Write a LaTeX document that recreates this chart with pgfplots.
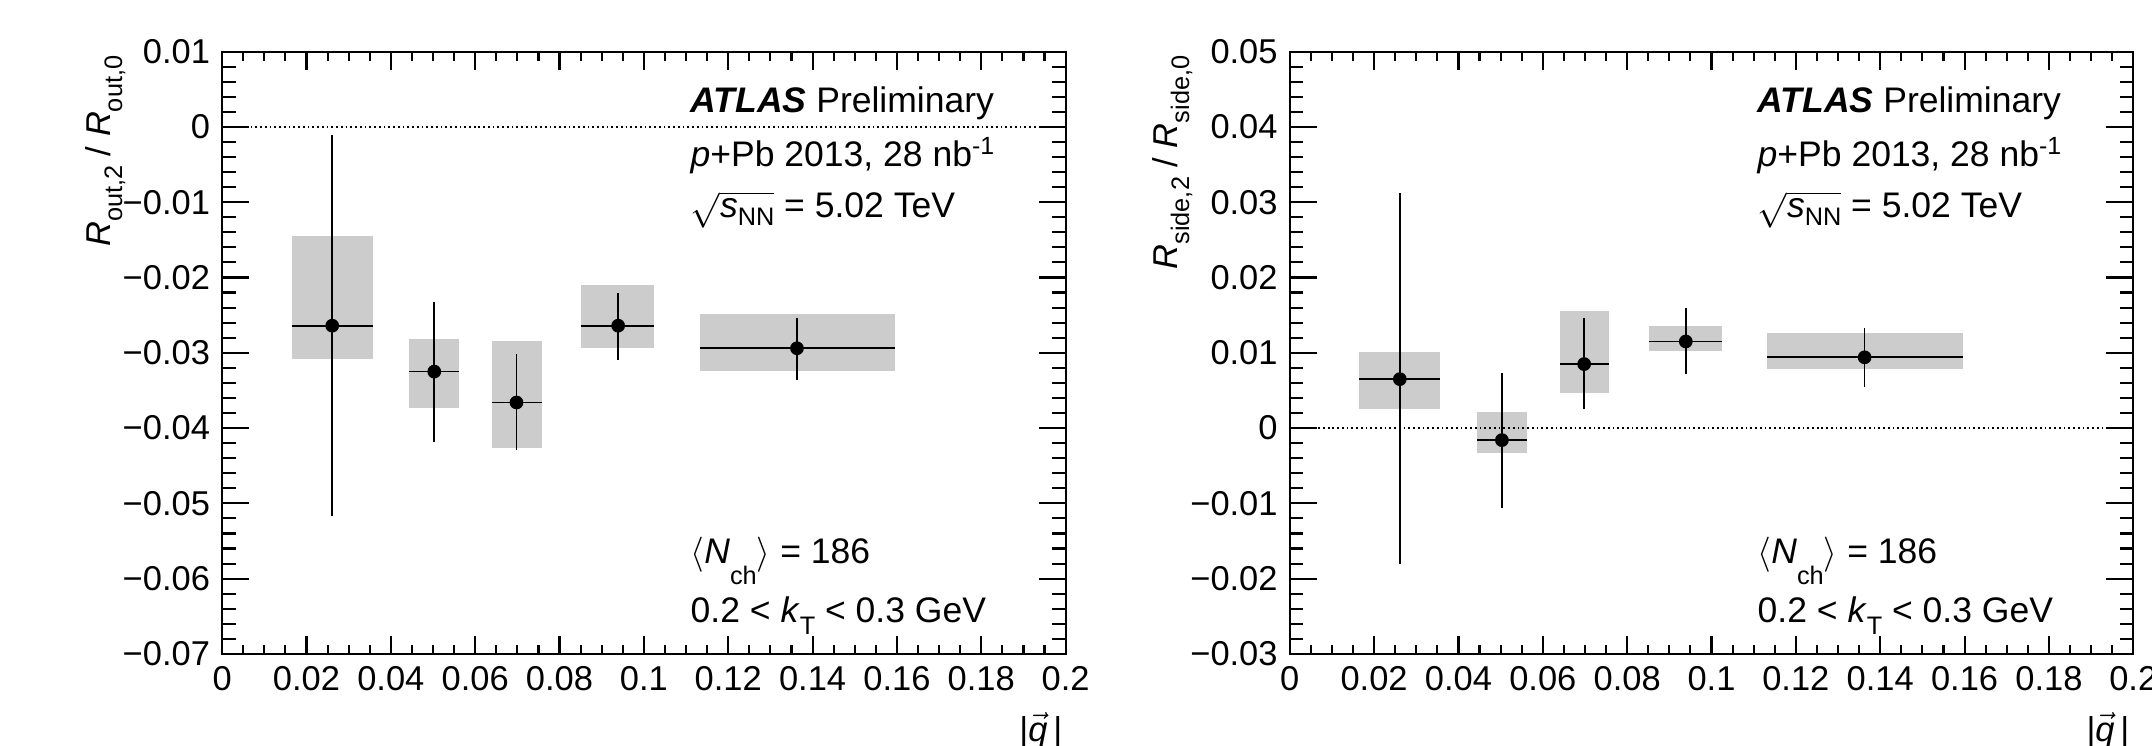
\documentclass[border=0pt]{standalone}
\usepackage{fontspec}
\setmainfont{Liberation Sans}
\usepackage{pgfplots}
\usepackage{pgfplotstable}
\pgfplotsset{compat=1.18}

% x, y, bin edges, stat. error ends
\pgfplotstableread{
x      y       xlo    xhi    shi     slo
0.0261 -0.0264 0.0165 0.0357 -0.0011 -0.0517
0.0503 -0.0325 0.0444 0.0562 -0.0233 -0.0418
0.0698 -0.0366 0.0641 0.0758 -0.0302 -0.0429
0.0939 -0.0264 0.0852 0.1025 -0.0220 -0.0309
0.1363 -0.0294 0.1132 0.1596 -0.0254 -0.0336
}\outdata

\pgfplotstableread{
x      y       xlo    xhi    shi     slo
0.0261  0.0065 0.0165 0.0357  0.0312 -0.0181
0.0503 -0.0016 0.0444 0.0562  0.0073 -0.0106
0.0698  0.0085 0.0641 0.0758  0.0146  0.0025
0.0939  0.0115 0.0852 0.1025  0.0159  0.0072
0.1363  0.0094 0.1132 0.1596  0.0133  0.0054
}\sidedata

\pgfplotsset{
  base/.style={scale only axis, width=8.43cm, height=6.02cm,
    xmin=0, xmax=0.2, anchor=south west, scaled ticks=false,
    tick align=inside, tick pos=both,
    axis line style={line width=0.6pt},
    every tick/.style={line width=0.6pt, black}},
  yframe/.style={base, xtick=\empty, minor y tick num=4,
    major tick length=0.27cm, minor tick length=0.135cm},
  xframe/.style={base, ytick=\empty,
    xtick={0,0.02,0.04,0.06,0.08,0.1,0.12,0.14,0.16,0.18,0.2},
    xticklabels={0,0.02,0.04,0.06,0.08,0.1,0.12,0.14,0.16,0.18,0.2},
    minor x tick num=3, major tick length=0.18cm, minor tick length=0.09cm},
  syst/.style={draw=none, fill=black!20, forget plot},
  zero/.style={black, line width=0.5pt, dash pattern=on 0.5pt off 0.85pt, forget plot},
  pts/.style={only marks, mark=*, mark size=1.75pt, black,
    error bars/.cd, x dir=both, x explicit, y dir=both, y explicit,
    error mark=none, error bar style={line width=0.5pt, black}},
}

\newcommand{\pts}[1]{\addplot[pts] table[x=x, y=y,
  x error minus expr=\thisrow{x}-\thisrow{xlo},
  x error plus expr=\thisrow{xhi}-\thisrow{x},
  y error plus expr=\thisrow{shi}-\thisrow{y},
  y error minus expr=\thisrow{y}-\thisrow{slo}] {#1};}
% ROOT-like subscripts: bigger and lower than \textsubscript
\newcommand{\sub}[2][0.35em]{\raisebox{-#1}{\fontsize{7.2}{8}\selectfont #2}}

\begin{document}
\fontsize{9.8}{11.8}\selectfont
\begin{tikzpicture}[x=0.01cm, y=0.01cm]
\path[use as bounding box] (0,0) rectangle (2152,745);

% ---- left: R_out
\begin{axis}[yframe, at={(2.22cm,0.91cm)}, ymin=-0.07, ymax=0.01,
  ytick={-0.07,-0.06,-0.05,-0.04,-0.03,-0.02,-0.01,0,0.01},
  yticklabels={−0.07,−0.06,−0.05,−0.04,−0.03,−0.02,−0.01,0,0.01}]
\addplot[syst] coordinates {(0.0165,-0.0145) (0.0357,-0.0145) (0.0357,-0.0308) (0.0165,-0.0308)};
\addplot[syst] coordinates {(0.0444,-0.0282) (0.0562,-0.0282) (0.0562,-0.0373) (0.0444,-0.0373)};
\addplot[syst] coordinates {(0.0641,-0.0284) (0.0758,-0.0284) (0.0758,-0.0426) (0.0641,-0.0426)};
\addplot[syst] coordinates {(0.0852,-0.0210) (0.1025,-0.0210) (0.1025,-0.0293) (0.0852,-0.0293)};
\addplot[syst] coordinates {(0.1132,-0.0249) (0.1596,-0.0249) (0.1596,-0.0324) (0.1132,-0.0324)};
\addplot[zero] coordinates {(0,0) (0.2,0)};
\pts{\outdata}
\end{axis}
\begin{axis}[xframe, at={(2.22cm,0.91cm)}, ymin=-0.07, ymax=0.01]
\end{axis}

% ---- right: R_side
\begin{axis}[yframe, at={(12.89cm,0.91cm)}, ymin=-0.03, ymax=0.05,
  ytick={-0.03,-0.02,-0.01,0,0.01,0.02,0.03,0.04,0.05},
  yticklabels={−0.03,−0.02,−0.01,0,0.01,0.02,0.03,0.04,0.05}]
\addplot[syst] coordinates {(0.0165,0.0101) (0.0357,0.0101) (0.0357,0.0025) (0.0165,0.0025)};
\addplot[syst] coordinates {(0.0444,0.0022) (0.0562,0.0022) (0.0562,-0.0033) (0.0444,-0.0033)};
\addplot[syst] coordinates {(0.0641,0.0156) (0.0758,0.0156) (0.0758,0.0046) (0.0641,0.0046)};
\addplot[syst] coordinates {(0.0852,0.0135) (0.1025,0.0135) (0.1025,0.0103) (0.0852,0.0103)};
\addplot[syst] coordinates {(0.1132,0.0126) (0.1596,0.0126) (0.1596,0.0079) (0.1132,0.0079)};
\addplot[zero] coordinates {(0,0) (0.2,0)};
\pts{\sidedata}
\end{axis}
\begin{axis}[xframe, at={(12.89cm,0.91cm)}, ymin=-0.03, ymax=0.05]
\end{axis}

% ---- titles and labels
\node[rotate=90, anchor=base east, inner sep=0pt] at (110,690)
  {\textit{R}\sub{out,2} / \textit{R}\sub{out,0}};
\node[rotate=90, anchor=base east, inner sep=0pt] at (1177,690)
  {\textit{R}\sub{side,2} / \textit{R}\sub{side,0}};
\node[anchor=base east, inner sep=0pt] at (1063,4) {\textbar$\vec{\mbox{\itshape q}}$\,\textbar};
\node[anchor=base east, inner sep=0pt] at (2130,4) {\textbar$\vec{\mbox{\itshape q}}$\,\textbar};

\foreach \dx in {0,1067} {
  \begin{scope}[xshift=\dx*0.01cm]
  \node[anchor=base west, inner sep=0pt] at (690,632) {\fontsize{10.1}{12}\selectfont\textbf{\textit{ATLAS}} Preliminary};
  \node[anchor=base west, inner sep=0pt] at (690,578) {\fontsize{10.1}{12}\selectfont\textit{p}+Pb 2013, 28 nb\textsuperscript{-1}};
  \node[anchor=base west, inner sep=0pt] at (690,527) {\fontsize{10.1}{12}\selectfont$\sqrt{\mbox{\itshape s\sub[0.2em]{\upshape NN}}}$ = 5.02 TeV};
  \node[anchor=base west, inner sep=0pt] at (690,182) {\fontsize{10.1}{12}\selectfont$\langle$\textit{N}\sub[0.6em]{ch}$\rangle$ = 186};
  \node[anchor=base west, inner sep=0pt] at (690,123) {\fontsize{10.1}{12}\selectfont 0.2 < \textit{k}\sub{T} < 0.3 GeV};
  \end{scope}
}
\end{tikzpicture}
\end{document}
